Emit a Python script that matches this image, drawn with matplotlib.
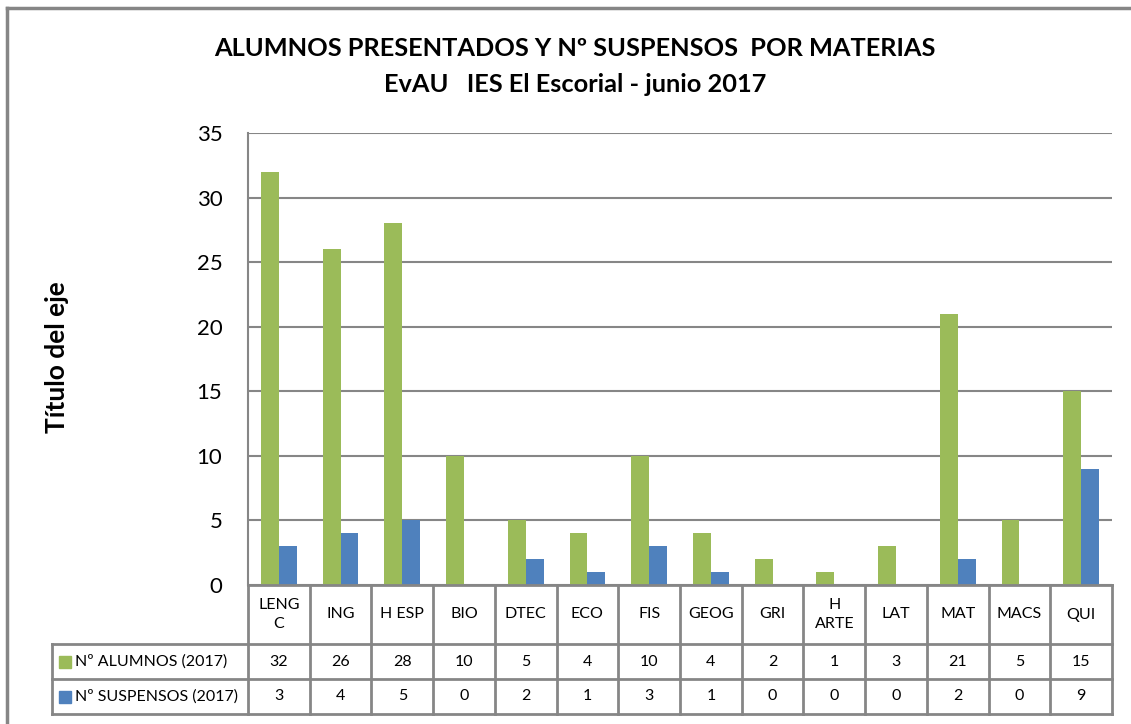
import matplotlib
matplotlib.use("Agg")
import matplotlib.pyplot as plt
from matplotlib.patches import Rectangle
from matplotlib.lines import Line2D
from matplotlib.transforms import blended_transform_factory
import numpy as np

plt.rcParams['font.family'] = ['Lato', 'DejaVu Sans']

materias = ["LENG\nC", "ING", "H ESP", "BIO", "DTEC", "ECO", "FIS", "GEOG",
            "GRI", "H\nARTE", "LAT", "MAT", "MACS", "QUI"]
alumnos = [32, 26, 28, 10, 5, 4, 10, 4, 2, 1, 3, 21, 5, 15]
suspensos = [3, 4, 5, 0, 2, 1, 3, 1, 0, 0, 0, 2, 0, 9]
series_names = ["Nº ALUMNOS (2017)", "Nº SUSPENSOS (2017)"]
verde = "#9BBB59"
azul = "#4F81BD"
gris = "#868686"

W, H = 1131, 724
fig = plt.figure(figsize=(W / 100, H / 100), dpi=100)

def fx(px):
    return px / W

def fy(py):
    return 1 - py / H

# marco del grafico (solo se ven el borde superior e izquierdo)
fig.add_artist(Line2D([fx(7), fx(1131)], [fy(8)] * 2, transform=fig.transFigure,
                      color=gris, lw=2.5))
fig.add_artist(Line2D([fx(7)] * 2, [fy(8), fy(724)], transform=fig.transFigure,
                      color=gris, lw=2.5))

ax_l, ax_r, ax_t, ax_b = 248, 1112, 133, 585
ax = fig.add_axes([fx(ax_l), fy(ax_b), fx(ax_r - ax_l), fy(ax_t) - fy(ax_b)])

x = np.arange(len(materias))
bw = 0.29
ax.bar(x - bw / 2, alumnos, bw, color=verde, zorder=3)
ax.bar(x + bw / 2, suspensos, bw, color=azul, zorder=3)

ax.set_xlim(-0.5, len(materias) - 0.5)
ax.set_ylim(0, 35)
ax.set_yticks(range(0, 36, 5))
ax.tick_params(axis='y', length=0, labelsize=16, pad=18.5)
ax.set_xticks([])
ax.yaxis.grid(True, color=gris, lw=1.5, zorder=0)
for s in ["top", "right", "bottom"]:
    ax.spines[s].set_visible(False)
ax.spines["left"].set_color(gris)
ax.spines["left"].set_linewidth(1.5)

fig.text(fx(575), fy(48), "ALUMNOS PRESENTADOS Y Nº SUSPENSOS  POR MATERIAS",
         ha="center", va="center", fontsize=18.3, fontweight="bold")
fig.text(fx(575), fy(84), "EvAU   IES El Escorial - junio 2017",
         ha="center", va="center", fontsize=18.3, fontweight="bold")
fig.text(fx(57), fy(357), "Título del eje", rotation=90, ha="center",
         va="center", fontsize=19, fontweight="bold")

# tabla de datos
tr = blended_transform_factory(ax.transData, fig.transFigure)
rows = [585, 644, 679, 714]
tbl_l = 52
line_kw = dict(color=gris, lw=2, clip_on=False)
for i in range(len(materias) + 1):
    xe = i - 0.5
    fig.add_artist(Line2D([xe, xe], [fy(rows[0]), fy(rows[3])], transform=tr, **line_kw))
fig.add_artist(Line2D([fx(ax_l), fx(ax_r)], [fy(rows[0])] * 2, transform=fig.transFigure, **line_kw))
for r in rows[1:]:
    fig.add_artist(Line2D([fx(tbl_l), fx(ax_r)], [fy(r)] * 2, transform=fig.transFigure, **line_kw))
fig.add_artist(Line2D([fx(tbl_l)] * 2, [fy(rows[1]), fy(rows[3])], transform=fig.transFigure, **line_kw))

for i, m in enumerate(materias):
    fig.text(i, fy((rows[0] + rows[1]) / 2), m, transform=tr, ha="center",
             va="center", fontsize=11.5, linespacing=1.4)
    fig.text(i, fy((rows[1] + rows[2]) / 2), str(alumnos[i]), transform=tr,
             ha="center", va="center", fontsize=11.5)
    fig.text(i, fy((rows[2] + rows[3]) / 2), str(suspensos[i]), transform=tr,
             ha="center", va="center", fontsize=11.5)

for k, (name, col) in enumerate(zip(series_names, [verde, azul])):
    yc = (rows[k + 1] + rows[k + 2]) / 2
    fig.patches.append(Rectangle((fx(59), fy(yc + 6)), fx(12), fy(yc - 6) - fy(yc + 6),
                                 transform=fig.transFigure, color=col))
    fig.text(fx(75), fy(yc), name, ha="left", va="center", fontsize=11.5)

fig.savefig("out.png", dpi=100)
